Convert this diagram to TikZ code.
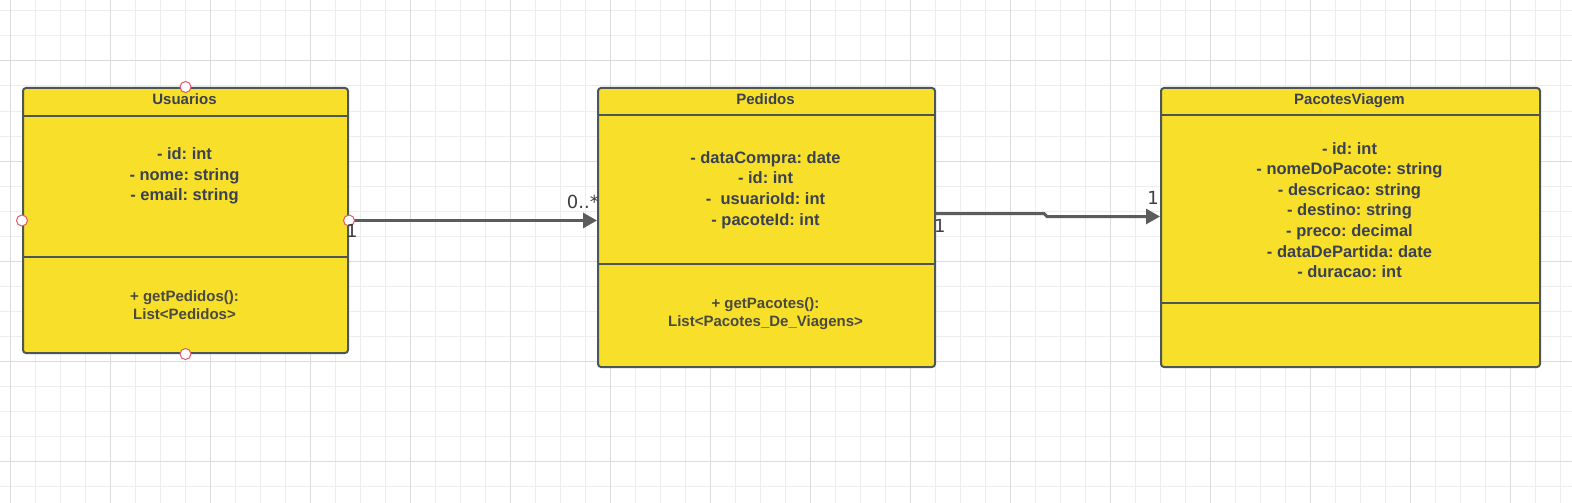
\documentclass[tikz,border=0pt]{standalone}
\usepackage{fontspec}
\setmainfont{Liberation Sans}
\newfontfamily\multfont{DejaVu Sans}
\usetikzlibrary{arrows.meta}
\definecolor{boxfill}{HTML}{F8DF2A}
\definecolor{boxline}{HTML}{4C5659}
\definecolor{txt}{HTML}{3A4150}
\definecolor{mtxt}{HTML}{4A4A3E}
\definecolor{conncol}{HTML}{5C5C5C}
\definecolor{multcol}{HTML}{3E3E3E}
\definecolor{gridminor}{HTML}{EDEDED}
\definecolor{gridmajor}{HTML}{DCDCDC}
\definecolor{handle}{HTML}{E0566A}
\tikzset{
  classbox/.style={draw=boxline, line width=2pt, fill=boxfill, rounded corners=3pt, anchor=north west, inner sep=0pt},
  sep/.style={draw=boxline, line width=2pt},
  head/.style={text=txt, font=\fontsize{15}{18}\selectfont\bfseries, inner sep=0pt, anchor=base},
  attr/.style={text=txt, font=\fontsize{16.5}{20.6}\selectfont\bfseries, align=center, inner sep=0pt},
  meth/.style={text=mtxt, font=\fontsize{15}{18}\selectfont\bfseries, align=center, inner sep=0pt},
  conn/.style={draw=conncol, line width=3pt, -{Triangle[length=14pt,width=15pt]}},
  mult/.style={text=multcol, font=\multfont\fontsize{18}{20}\selectfont, inner sep=0pt},
  handlept/.style={circle, draw=handle, fill=white, line width=1pt, minimum size=11pt, inner sep=0pt},
}
\begin{document}
\frenchspacing
\begin{tikzpicture}[x=1pt,y=-1pt]
\useasboundingbox (0,0) rectangle (1572,503);
\fill[white] (0,0) rectangle (1572,503);
% grid
\foreach \x in {10,35,...,1572} \draw[gridminor, line width=1pt] (\x,0) -- (\x,503);
\foreach \y in {11,36,...,503} \draw[gridminor, line width=1pt] (0,\y) -- (1572,\y);
\foreach \x in {10,110,...,1572} \draw[gridmajor, line width=1pt] (\x,0) -- (\x,503);
\foreach \y in {61,161,...,503} \draw[gridmajor, line width=1pt] (0,\y) -- (1572,\y);

% Usuarios
\node[classbox, minimum width=325pt, minimum height=265pt] (usu) at (22,87) {};
\draw[sep] (22,115.5) -- (347,115.5);
\draw[sep] (22,256.5) -- (347,256.5);
\node[head] (usuh) at (184.5,104.5) {Usuarios};
\node[attr] (usua) at (184.5,176) {- id: int\\- nome: string\\- email: string};
\node[meth] (usum) at (184.5,305) {+ getPedidos():\\List<Pedidos>};

% Pedidos
\node[classbox, minimum width=337pt, minimum height=279pt] (ped) at (597,87) {};
\draw[sep] (597,115) -- (934,115);
\draw[sep] (597,263.5) -- (934,263.5);
\node[head] (pedh) at (765.5,104.5) {Pedidos};
\node[attr] (peda) at (765.5,190) {- dataCompra: date\\- id: int\\-\ \ usuarioId: int\\- pacoteId: int};
\node[meth] (pedm) at (765.5,314) {+ getPacotes():\\List<Pacotes\_De\_Viagens>};

% PacotesViagem
\node[classbox, minimum width=379pt, minimum height=279pt] (pac) at (1160,87) {};
\draw[sep] (1160,115) -- (1539,115);
\draw[sep] (1160,303) -- (1539,303);
\node[head] (pach) at (1349.5,104.5) {PacotesViagem};
\node[attr] (paca) at (1349.5,210) {- id: int\\- nomeDoPacote: string\\- descricao: string\\- destino: string\\- preco: decimal\\- dataDePartida: date\\- duracao: int};

% connectors
\draw[conn] (usu.east) -- (usu.east -| ped.west);
\coordinate (j1) at (1044,213.5);
\coordinate (j2) at (1047,216.5);
\draw[conn] (ped.east |- j1) -- (j1) -- (j2) -- (pac.west |- j2);

% selection handles
\node[handlept] (h1) at (usu.north) {};
\node[handlept] (h2) at (usu.west) {};
\node[handlept] (h3) at (usu.east) {};
\node[handlept] (h4) at (usu.south) {};

% multiplicities
\node[mult, anchor=base west] (m1) at (346,237) {1};
\node[mult, anchor=base east] (m2) at (599,208) {0..*};
\node[mult, anchor=base west] (m3) at (934,232) {1};
\node[mult, anchor=base east] (m4) at (1159,204) {1};
\end{tikzpicture}
\end{document}
